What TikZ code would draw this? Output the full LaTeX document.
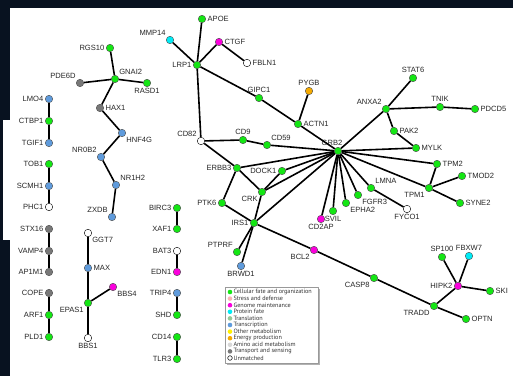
\documentclass[tikz,border=0pt]{standalone}
\usepackage{fontspec}
\usetikzlibrary{positioning}
\setmainfont{Liberation Sans}
\newfontfamily\legendfont{PT Sans}
\definecolor{bgnavy}{RGB}{8,18,32}
\definecolor{fatecol}{RGB}{20,230,20}
\definecolor{stresscol}{RGB}{250,180,180}
\definecolor{genomecol}{RGB}{250,0,220}
\definecolor{proteincol}{RGB}{0,235,245}
\definecolor{translcol}{RGB}{150,200,150}
\definecolor{transcol}{RGB}{95,155,220}
\definecolor{othercol}{RGB}{255,240,0}
\definecolor{energycol}{RGB}{245,170,0}
\definecolor{aminocol}{RGB}{215,215,215}
\definecolor{transpcol}{RGB}{120,120,120}
\tikzset{
  gene/.style={circle,draw=black!70,line width=0.4bp,inner sep=0pt,minimum size=7.5bp},
  fate/.style={gene,fill=fatecol},
  genome/.style={gene,fill=genomecol},
  protein/.style={gene,fill=proteincol},
  transc/.style={gene,fill=transcol},
  energy/.style={gene,fill=energycol},
  transp/.style={gene,fill=transpcol},
  unmatched/.style={gene,fill=white,draw=black},
  edge/.style={black,line width=1.6bp},
  legdot/.style={circle,inner sep=0pt,minimum size=4.6bp,draw=none},
}
\begin{document}
\begin{tikzpicture}[line join=bevel,label distance=0.5bp,
  every label/.style={font=\fontsize{7.6}{8}\selectfont,text=black!85,inner sep=1bp}]
%%
\fill [bgnavy] (0bp,0bp) rectangle (513bp,376bp);
\fill [white] (10bp,0bp) rectangle (513bp,368bp);
\fill [white] (3bp,136bp) rectangle (10bp,256bp);
%% small groups on the left
\node (LMO4) at (49bp,277bp) [transc,label=left:LMO4] {};
  \node (CTBP1) at (49bp,255bp) [fate,label=left:CTBP1] {};
  \node (TGIF1) at (49bp,233bp) [transc,label=left:TGIF1] {};
  \node (TOB1) at (49bp,212bp) [fate,label=left:TOB1] {};
  \node (SCMH1) at (49bp,190bp) [transc,label=left:SCMH1] {};
  \node (PHC1) at (49bp,169bp) [unmatched,label=left:PHC1] {};
  \node (STX16) at (49bp,147bp) [transp,label=left:STX16] {};
  \node (VAMP4) at (49bp,125bp) [transp,label=left:VAMP4] {};
  \node (AP1M1) at (49bp,104bp) [transp,label=left:AP1M1] {};
  \node (COPE) at (49bp,83bp) [transp,label=left:COPE] {};
  \node (ARF1) at (49bp,61bp) [fate,label=left:ARF1] {};
  \node (PLD1) at (49bp,39bp) [fate,label=left:PLD1] {};
  \node (RGS10) at (110bp,328bp) [fate,label=left:RGS10] {};
  \node (GNAI2) at (115bp,297bp) [fate,label=above right:GNAI2] {};
  \node (PDE6D) at (80bp,293bp) [transp,label=above left:PDE6D] {};
  \node (RASD1) at (147bp,293bp) [fate,label=below:RASD1] {};
  \node (HAX1) at (100bp,268bp) [transp,label=right:HAX1] {};
  \node (HNF4G) at (122bp,243bp) [transc,label=below right:HNF4G] {};
  \node (NR0B2) at (101bp,219bp) [transc,label=above left:NR0B2] {};
  \node (NR1H2) at (116bp,191bp) [transc,label=above right:NR1H2] {};
  \node (ZXDB) at (112bp,159bp) [transc,label=above left:ZXDB] {};
  \node (GGT7) at (88bp,143bp) [unmatched,label=below right:GGT7] {};
  \node (MAX) at (88bp,108bp) [transc,label=right:MAX] {};
  \node (EPAS1) at (88bp,73bp) [fate,label=below left:EPAS1] {};
  \node (BBS4) at (113bp,89bp) [genome,label=below right:BBS4] {};
  \node (BBS1) at (88bp,38bp) [unmatched,label=below:BBS1] {};
  \node (BIRC3) at (177bp,168bp) [fate,label=left:BIRC3] {};
  \node (XAF1) at (177bp,147bp) [fate,label=left:XAF1] {};
  \node (BAT3) at (177bp,125bp) [unmatched,label=left:BAT3] {};
  \node (EDN1) at (177bp,104bp) [genome,label=left:EDN1] {};
  \node (TRIP4) at (177bp,83bp) [transc,label=left:TRIP4] {};
  \node (SHD) at (177bp,61bp) [fate,label=left:SHD] {};
  \node (CD14) at (177bp,39bp) [fate,label=left:CD14] {};
  \node (TLR3) at (177bp,17bp) [fate,label=left:TLR3] {};
%% main network
\node (MMP14) at (170bp,336bp) [protein,label=above left:MMP14] {};
  \node (APOE) at (202bp,357bp) [fate,label=right:APOE] {};
  \node (CTGF) at (219bp,334bp) [genome,label=right:CTGF] {};
  \node (FBLN1) at (247bp,313bp) [unmatched,label=right:FBLN1] {};
  \node (LRP1) at (197bp,311bp) [fate,label=left:LRP1] {};
  \node (GIPC1) at (259bp,278bp) [fate,label=above:GIPC1] {};
  \node (PYGB) at (309bp,285bp) [energy,label=above:PYGB] {};
  \node (ACTN1) at (298bp,252bp) [fate,label=right:ACTN1] {};
  \node (GRB2) at (338bp,225bp) [fate,label={[xshift=-6bp]above:GRB2}] {};
  \node (CD82) at (201bp,235bp) [unmatched,label=above left:CD82] {};
  \node (CD9) at (243bp,236bp) [fate,label=above:CD9] {};
  \node (CD59) at (267bp,231bp) [fate,label=above right:CD59] {};
  \node (ERBB3) at (237bp,208bp) [fate,label=left:ERBB3] {};
  \node (DOCK1) at (282bp,205bp) [fate,label=left:DOCK1] {};
  \node (CRK) at (262bp,184bp) [fate,label=below left:CRK] {};
  \node (PTK6) at (222bp,173bp) [fate,label=left:PTK6] {};
  \node (IRS1) at (254bp,153bp) [fate,label=left:IRS1] {};
  \node (PTPRF) at (237bp,124bp) [fate,label=above left:PTPRF] {};
  \node (BRWD1) at (241bp,110bp) [transc,label=below:BRWD1] {};
  \node (BCL2) at (314bp,126bp) [genome,label=below left:BCL2] {};
  \node (CASP8) at (374bp,98bp) [fate,label=below left:CASP8] {};
  \node (TRADD) at (434bp,70bp) [fate,label=below left:TRADD] {};
  \node (OPTN) at (466bp,57bp) [fate,label=right:OPTN] {};
  \node (HIPK2) at (458bp,90bp) [genome,label=left:HIPK2] {};
  \node (SKI) at (490bp,85bp) [fate,label=right:SKI] {};
  \node (SP100) at (442bp,119bp) [fate,label=above:SP100] {};
  \node (FBXW7) at (469bp,120bp) [protein,label=above:FBXW7] {};
  \node (SVIL) at (333bp,165bp) [fate,label=below:SVIL] {};
  \node (CD2AP) at (321bp,157bp) [genome,label=below:CD2AP] {};
  \node (EPHA2) at (346bp,173bp) [fate,label=below right:EPHA2] {};
  \node (FGFR3) at (358bp,181bp) [fate,label=below right:FGFR3] {};
  \node (LMNA) at (371bp,188bp) [fate,label=above right:LMNA] {};
  \node (FYCO1) at (407bp,167bp) [unmatched,label=below:FYCO1] {};
  \node (TPM1) at (429bp,188bp) [fate,label=below left:TPM1] {};
  \node (TPM2) at (437bp,212bp) [fate,label=right:TPM2] {};
  \node (TMOD2) at (462bp,200bp) [fate,label=right:TMOD2] {};
  \node (SYNE2) at (460bp,173bp) [fate,label=right:SYNE2] {};
  \node (MYLK) at (416bp,228bp) [fate,label=right:MYLK] {};
  \node (PAK2) at (394bp,245bp) [fate,label=right:PAK2] {};
  \node (ANXA2) at (386bp,267bp) [fate,label=above left:ANXA2] {};
  \node (STAT6) at (413bp,298bp) [fate,label=above:STAT6] {};
  \node (TNIK) at (440bp,269bp) [fate,label=above:TNIK] {};
  \node (PDCD5) at (475bp,267bp) [fate,label=right:PDCD5] {};
%% interactions
\foreach \a/\b in {LMO4/CTBP1,CTBP1/TGIF1,TOB1/SCMH1,SCMH1/PHC1,STX16/VAMP4,
    VAMP4/AP1M1,COPE/ARF1,ARF1/PLD1,RGS10/GNAI2,PDE6D/GNAI2,GNAI2/RASD1,
    GNAI2/HAX1,HAX1/HNF4G,HNF4G/NR0B2,NR0B2/NR1H2,NR1H2/ZXDB,GGT7/MAX,
    MAX/EPAS1,EPAS1/BBS1,EPAS1/BBS4,BIRC3/XAF1,BAT3/EDN1,TRIP4/SHD,CD14/TLR3}
  \draw [edge] (\a) -- (\b);
\foreach \a/\b in {MMP14/LRP1,APOE/LRP1,LRP1/CTGF,CTGF/FBLN1,LRP1/GIPC1,
    GIPC1/ACTN1,ACTN1/PYGB,ACTN1/GRB2,LRP1/CD82,CD82/CD9,CD9/CD59,CD59/GRB2,
    CD82/ERBB3,ERBB3/CRK,ERBB3/GRB2,ERBB3/PTK6,PTK6/IRS1,CRK/DOCK1,CRK/IRS1,
    CRK/GRB2,DOCK1/GRB2,IRS1/GRB2,IRS1/PTPRF,IRS1/BRWD1,IRS1/BCL2,BCL2/CASP8,
    CASP8/TRADD,TRADD/OPTN,TRADD/HIPK2,HIPK2/SP100,HIPK2/FBXW7,HIPK2/SKI,
    GRB2/ANXA2,ANXA2/STAT6,ANXA2/TNIK,TNIK/PDCD5,ANXA2/PAK2,PAK2/MYLK,
    GRB2/MYLK,GRB2/TPM2,GRB2/TPM1,TPM1/TPM2,TPM1/TMOD2,TPM1/SYNE2,
    GRB2/LMNA,LMNA/FYCO1,GRB2/FGFR3,GRB2/EPHA2,GRB2/SVIL,GRB2/CD2AP}
  \draw [edge] (\a) -- (\b);
%% legend
\fill [black!30] (227bp,11bp) rectangle (320bp,87bp);
\draw [black!40,fill=white,line width=0.4bp] (225bp,13bp) rectangle (318bp,89bp);
\foreach \col/\txt [count=\i] in {fatecol/Cellular fate and organization,
    stresscol/Stress and defense,genomecol/Genome maintenance,
    proteincol/Protein fate,translcol/Translation,transcol/Transcription,
    othercol/Other metabolism,energycol/Energy production,
    aminocol/Amino acid metabolism,transpcol/Transport and sensing,
    white/Unmatched}
  {
  \node (leg\i) at (230bp,{84bp-(\i-1)*6.6bp}) [legdot,fill=\col] {};
  \node (legtxt\i) [right=0.3bp of leg\i,inner sep=0.5bp,
    font=\legendfont\fontsize{6.2}{6.6}\selectfont,text=black!80] {\txt};
  }
\draw [black,line width=0.5bp] (leg11) circle (2.3bp);
%
\end{tikzpicture}
\end{document}
